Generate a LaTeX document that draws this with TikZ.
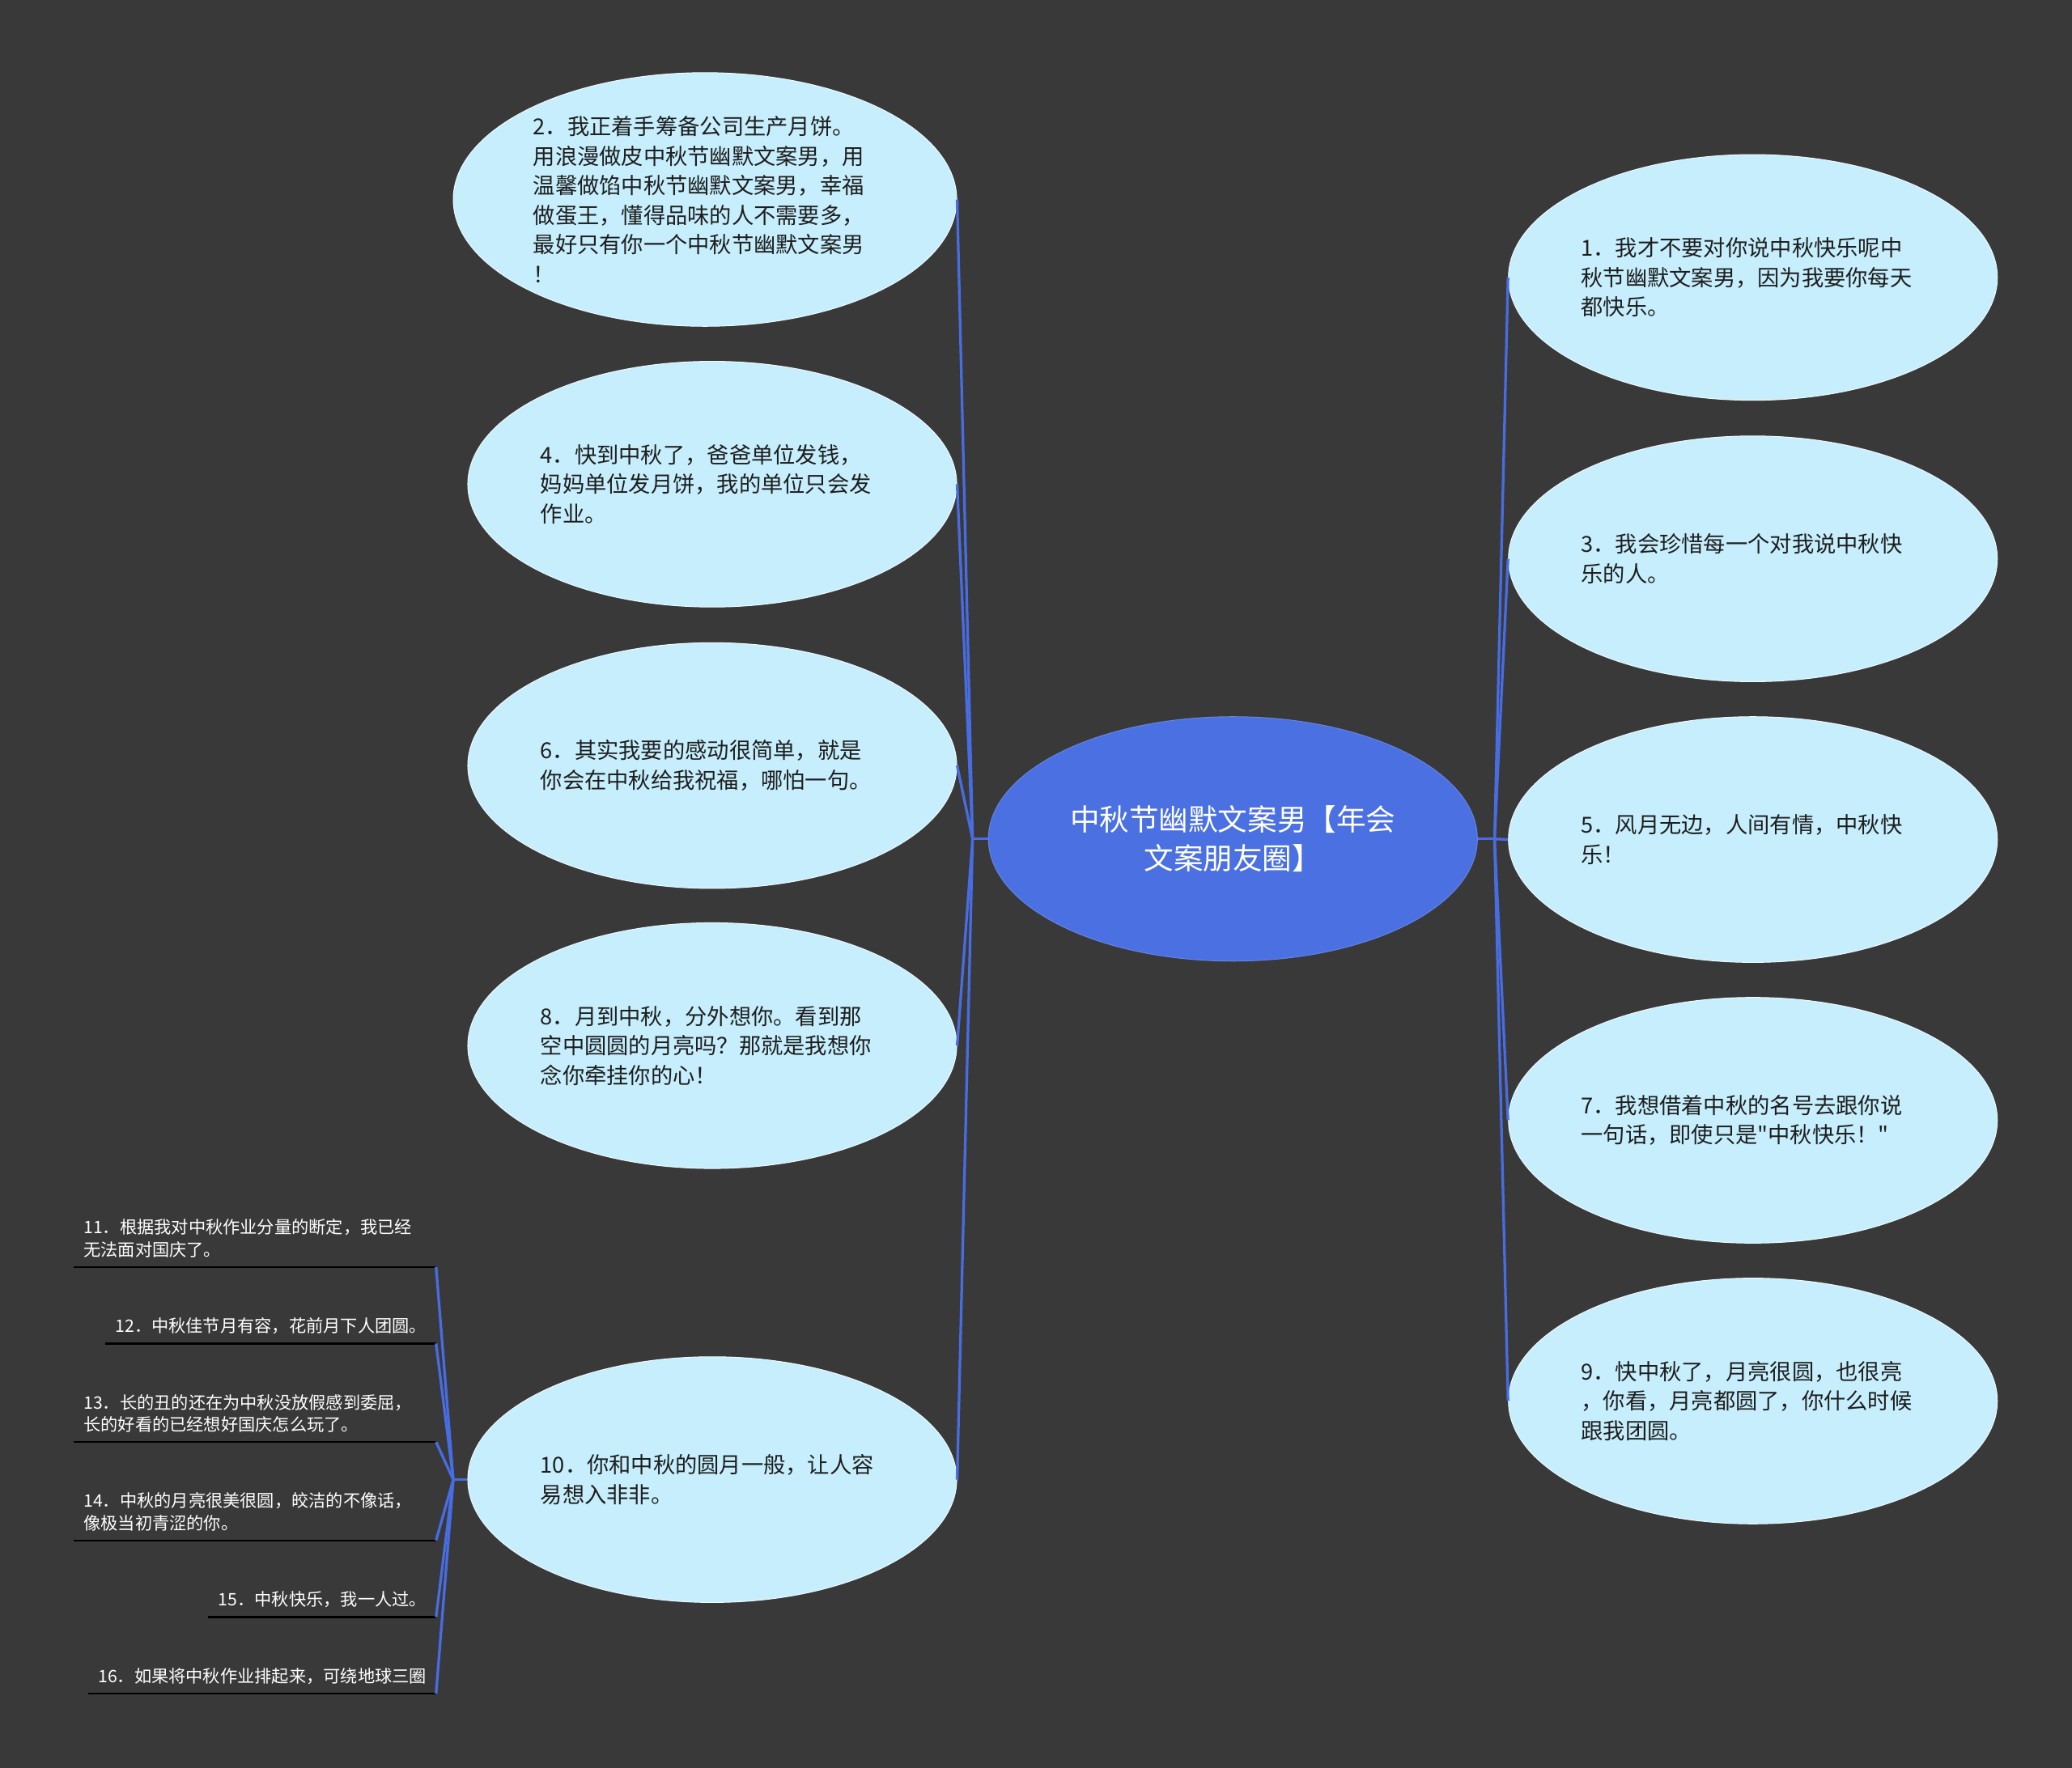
\documentclass[tikz,border=0pt]{standalone}
\usepackage{fontspec}
\setmainfont{Noto Sans CJK SC}[Ligatures=TeXOff]
\usetikzlibrary{shapes.geometric}
\definecolor{bgc}{RGB}{58,57,58}
\definecolor{bubblec}{RGB}{198,238,252}
\definecolor{rootc}{RGB}{74,112,225}
\definecolor{linkc}{RGB}{72,108,226}
\definecolor{txtc}{RGB}{30,30,30}
\begin{document}
\begin{tikzpicture}[x=1pt,y=-1pt,
  bubble/.style={ellipse, fill=bubblec, draw=white!70!bubblec, line width=0.6pt, inner sep=0pt,
    minimum width=370pt, minimum height=186pt, text width=260pt, align=left, text=txtc,
    font=\fontsize{16.7}{22.4}\selectfont},
  rootnode/.style={ellipse, fill=rootc, draw=rootc!85!white, line width=0.6pt, inner sep=0pt,
    minimum width=370pt, minimum height=185pt, align=center, text=white,
    font=\fontsize{22.4}{29.5}\selectfont},
  leaf/.style={anchor=south east, inner xsep=7.5pt, inner ysep=7pt, align=left, text=white,
    font=\fontsize{13}{16.8}\selectfont},
  link/.style={draw=linkc, line width=2pt},
  uline/.style={draw=black, line width=1.4pt}]
\fill[bgc] (0,0) rectangle (1568,1338);
\useasboundingbox (0,0) rectangle (1568,1338);

% root
\node[rootnode] (root) at (933,635) {中秋节幽默文案男【年会\\文案朋友圈】};

% left bubbles
\node[bubble, minimum width=381pt, minimum height=192pt] (n2) at (533.5,151)
  {2．我正着手筹备公司生产月饼。\\用浪漫做皮中秋节幽默文案男，用\\温馨做馅中秋节幽默文案男，幸福\\做蛋王，懂得品味的人不需要多，\\最好只有你一个中秋节幽默文案男\\！};
\node[bubble] (n4) at (539,366.5) {4．快到中秋了，爸爸单位发钱，\\妈妈单位发月饼，我的单位只会发\\作业。};
\node[bubble] (n6) at (539,579.5) {6．其实我要的感动很简单，就是\\你会在中秋给我祝福，哪怕一句。};
\node[bubble] (n8) at (539,791.5) {8．月到中秋，分外想你。看到那\\空中圆圆的月亮吗？那就是我想你\\念你牵挂你的心！};
\node[bubble] (n10) at (539,1120) {10．你和中秋的圆月一般，让人容\\易想入非非。};

% right bubbles
\node[bubble] (n1) at (1326.5,210) {1．我才不要对你说中秋快乐呢中\\秋节幽默文案男，因为我要你每天\\都快乐。};
\node[bubble] (n3) at (1326.5,423) {3．我会珍惜每一个对我说中秋快\\乐的人。};
\node[bubble] (n5) at (1326.5,635.5) {5．风月无边，人间有情，中秋快\\乐！};
\node[bubble] (n7) at (1326.5,848) {7．我想借着中秋的名号去跟你说\\一句话，即使只是"中秋快乐！"};
\node[bubble] (n9) at (1326.5,1060.5) {9．快中秋了，月亮很圆，也很亮\\，你看，月亮都圆了，你什么时候\\跟我团圆。};

% leaves of 10
\node[leaf, text width=259pt] (l11) at (330,959) {11．根据我对中秋作业分量的断定，我已经\\无法面对国庆了。};
\node[leaf, text width=235pt] (l12) at (330,1017) {12．中秋佳节月有容，花前月下人团圆。};
\node[leaf, text width=259pt] (l13) at (330,1091.5) {13．长的丑的还在为中秋没放假感到委屈，\\长的好看的已经想好国庆怎么玩了。};
\node[leaf, text width=259pt] (l14) at (330,1166) {14．中秋的月亮很美很圆，皎洁的不像话，\\像极当初青涩的你。};
\node[leaf, text width=157pt] (l15) at (330,1224) {15．中秋快乐，我一人过。};
\node[leaf, text width=248pt] (l16) at (330,1282) {16．如果将中秋作业排起来，可绕地球三圈};

\foreach \l in {l11,l12,l13,l14,l15,l16}
  \draw[uline] (\l.south west) -- (\l.south east);

% junctions
\coordinate (jl) at (736,635);
\coordinate (jr) at (1131,635);
\coordinate (j10) at (343,1120);

\draw[link] (root.west) -- (jl);
\foreach \n in {n2,n4,n6,n8,n10}
  \draw[link] (jl) -- (\n.east);
\draw[link] (root.east) -- (jr);
\foreach \n in {n1,n3,n5,n7,n9}
  \draw[link] (jr) -- (\n.west);
\draw[link] (n10.west) -- (j10);
\foreach \l in {l11,l12,l13,l14,l15,l16}
  \draw[link] (j10) -- (\l.south east);
\end{tikzpicture}
\end{document}
